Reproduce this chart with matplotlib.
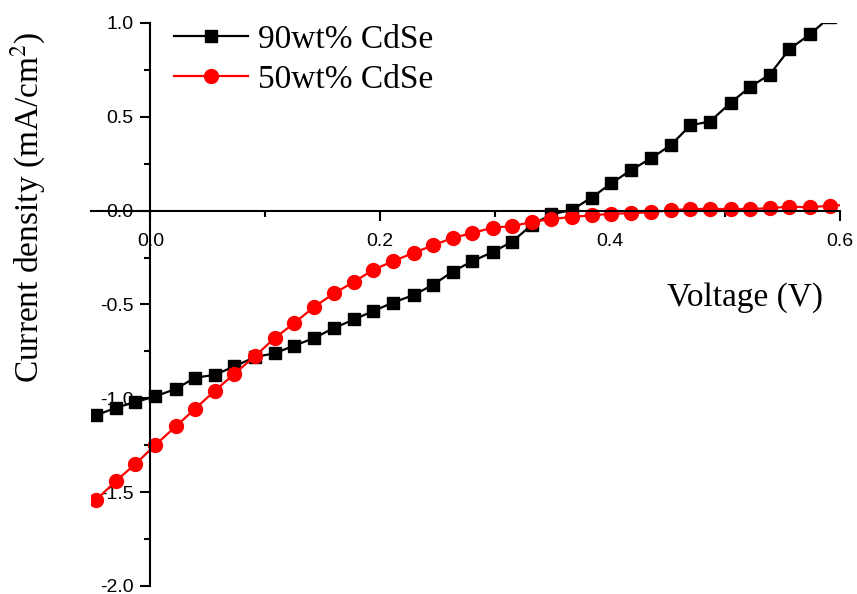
import numpy as np
import matplotlib
matplotlib.use('Agg')
import matplotlib.pyplot as plt
from matplotlib.ticker import MultipleLocator, FormatStrFormatter

plt.rcParams['axes.unicode_minus'] = False
plt.rcParams['mathtext.fontset'] = 'stix'

# voltage (V)
voltage = [-0.047, -0.030, -0.013, 0.004, 0.022, 0.039, 0.056, 0.073, 0.091, 0.108,
           0.125, 0.142, 0.160, 0.177, 0.194, 0.211, 0.229, 0.246, 0.263, 0.280,
           0.298, 0.315, 0.332, 0.349, 0.367, 0.384, 0.401, 0.418, 0.436, 0.453,
           0.470, 0.487, 0.505, 0.522, 0.539, 0.556, 0.574, 0.591, 0.608]

# current density (mA/cm2)
cd_90 = [-1.09, -1.05, -1.02, -0.99, -0.95, -0.89, -0.875, -0.83, -0.78, -0.76,
         -0.72, -0.68, -0.625, -0.58, -0.535, -0.49, -0.45, -0.395, -0.325, -0.27,
         -0.22, -0.165, -0.075, -0.02, 0.005, 0.07, 0.145, 0.215, 0.28, 0.35,
         0.455, 0.475, 0.575, 0.66, 0.725, 0.86, 0.94, 1.03, 1.12]
cd_50 = [-1.54, -1.44, -1.35, -1.25, -1.15, -1.055, -0.96, -0.87, -0.775, -0.68,
         -0.60, -0.515, -0.44, -0.38, -0.315, -0.27, -0.225, -0.185, -0.145, -0.12,
         -0.09, -0.083, -0.06, -0.045, -0.033, -0.025, -0.017, -0.013, -0.008, 0.002,
         0.009, 0.009, 0.009, 0.009, 0.013, 0.022, 0.017, 0.027, 0.03]

labels = ['90wt% CdSe', '50wt% CdSe']

fig = plt.figure(figsize=(8.57, 5.94), dpi=100)
ax = fig.add_axes([0.1058, 0.0135, 0.8742, 0.9478])

ax.plot(voltage, cd_90, color='black', marker='s', ms=8.5, lw=1.6, label=labels[0])
ax.plot(voltage, cd_50, color='red', marker='o', ms=10, lw=1.6, label=labels[1])

ax.set_xlim(-0.052, 0.6)
ax.set_ylim(-2.0, 1.0)

# axes crossing at the origin
ax.spines['left'].set_position(('data', 0))
ax.spines['bottom'].set_position(('data', 0))
ax.spines['top'].set_visible(False)
ax.spines['right'].set_visible(False)
ax.spines['left'].set_linewidth(1.5)
ax.spines['bottom'].set_linewidth(1.5)

ax.xaxis.set_major_locator(MultipleLocator(0.2))
ax.xaxis.set_minor_locator(MultipleLocator(0.1))
ax.yaxis.set_major_locator(MultipleLocator(0.5))
ax.yaxis.set_minor_locator(MultipleLocator(0.25))
ax.xaxis.set_major_formatter(FormatStrFormatter('%.1f'))
ax.yaxis.set_major_formatter(FormatStrFormatter('%.1f'))
ax.tick_params(which='major', direction='out', length=7, width=1.5,
               labelsize=14, pad=5)
ax.tick_params(axis='x', which='major', pad=9)
ax.tick_params(which='minor', direction='out', length=4, width=1.5)
for lab in ax.get_xticklabels() + ax.get_yticklabels():
    lab.set_fontfamily('Liberation Sans')

ax.set_xlabel('Voltage (V)', fontsize=24, family='Liberation Serif')
ax.xaxis.set_label_coords(0.873, 0.54)
ax.set_ylabel('Current density (mA/cm$^2$)', fontsize=24, family='Liberation Serif')
ax.yaxis.set_label_coords(-0.057, 0.673)

ax.legend(loc='upper left', bbox_to_anchor=(0.1115, 0.998), frameon=False,
          prop={'family': 'Liberation Serif', 'size': 24}, handlelength=2.2,
          handletextpad=0.3, borderpad=0, borderaxespad=0, labelspacing=0.3)

fig.savefig('out.png', dpi=100)
